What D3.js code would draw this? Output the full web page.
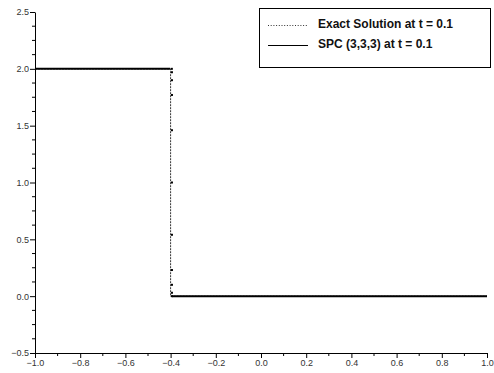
<!DOCTYPE html>
<html>
<head>
<meta charset="utf-8">
<script src="https://cdn.jsdelivr.net/npm/d3@7"></script>
<style>
  html, body { margin: 0; padding: 0; background: #fff; }
  svg { display: block; }
  .tick-label { font-family: "Liberation Sans", Arial, sans-serif; font-size: 9px; fill: #333; }
  .legend-text { font-family: "Liberation Sans", Arial, sans-serif; font-size: 12px; font-weight: bold; fill: #111; }
</style>
</head>
<body>
<svg id="chart" width="494" height="373"></svg>
<script>
// Exact solution: step of height 2 located at x = -0.4
const exactX = [-1.0, -0.4, -0.4, 1.0];
const exactY = [2.0, 2.0, 0.0, 0.0];

// SPC (3,3,3) solution: plateaus on either side of the shock
const spcLeftX = [-1.0, -0.402];
const spcLeftY = [2.0, 2.0];
const spcRightX = [-0.3935, 1.0];
const spcRightY = [0.0, 0.0];
// solution points across the shock
const shockX = [-0.3945, -0.394, -0.394, -0.394, -0.394, -0.394, -0.394, -0.394, -0.394, -0.394, -0.3945];
const shockY = [2.0, 1.97, 1.90, 1.77, 1.46, 1.0, 0.54, 0.23, 0.10, 0.03, 0.0];

const xTicks = [-1.0, -0.8, -0.6, -0.4, -0.2, 0.0, 0.2, 0.4, 0.6, 0.8, 1.0];
const xMinor = [-0.9, -0.7, -0.5, -0.3, -0.1, 0.1, 0.3, 0.5, 0.7, 0.9];
const yTicks = [-0.5, 0.0, 0.5, 1.0, 1.5, 2.0, 2.5];
const yMinor = [-0.375, -0.25, -0.125, 0.125, 0.25, 0.375, 0.625, 0.75, 0.875,
                1.125, 1.25, 1.375, 1.625, 1.75, 1.875, 2.125, 2.25, 2.375];

const legendLabels = ["Exact Solution at t = 0.1", "SPC (3,3,3) at t = 0.1"];

const svg = d3.select("#chart");
const x = d3.scaleLinear().domain([-1, 1]).range([35, 487]);
const y = d3.scaleLinear().domain([-0.5, 2.5]).range([353, 12]);

// axes: left and bottom only
const gx = svg.append("g").attr("transform", `translate(0,${y(-0.5)})`);
gx.call(d3.axisBottom(x).tickValues(xTicks).tickFormat(d3.format(".1f")).tickSize(5).tickSizeOuter(0));
gx.append("g").selectAll("line").data(xMinor).join("line")
  .attr("x1", d => x(d)).attr("x2", d => x(d)).attr("y1", 0).attr("y2", 3)
  .attr("stroke", "#000");

const gy = svg.append("g").attr("transform", `translate(${x(-1)},0)`);
gy.call(d3.axisLeft(y).tickValues(yTicks).tickFormat(d3.format(".1f")).tickSize(5).tickSizeOuter(0));
gy.append("g").selectAll("line").data(yMinor).join("line")
  .attr("y1", d => y(d)).attr("y2", d => y(d)).attr("x1", 0).attr("x2", -3)
  .attr("stroke", "#000");

[gx, gy].forEach(g => {
  g.select(".domain").attr("stroke", "#000").attr("stroke-width", 1);
  g.selectAll(".tick line").attr("stroke", "#000");
  g.selectAll(".tick text").attr("class", "tick-label").attr("font-size", null).attr("font-family", null).attr("fill", null);
});
gx.selectAll(".tick text").attr("dy", "0.55em").attr("y", 8);
gy.selectAll(".tick text").attr("x", -6);

const line = d3.line().x(d => x(d[0])).y(d => y(d[1]));

// exact solution (dotted)
svg.append("path")
  .datum(d3.zip(exactX, exactY))
  .attr("d", line)
  .attr("fill", "none")
  .attr("stroke", "#333")
  .attr("stroke-width", 1)
  .attr("stroke-dasharray", "2,1");

// SPC solution (solid)
[[spcLeftX, spcLeftY], [spcRightX, spcRightY]].forEach(([xs, ys]) => {
  svg.append("path")
    .datum(d3.zip(xs, ys))
    .attr("d", line)
    .attr("fill", "none")
    .attr("stroke", "#000")
    .attr("stroke-width", 2);
});
svg.append("g").selectAll("rect").data(d3.zip(shockX, shockY)).join("rect")
  .attr("x", d => x(d[0]) - 1)
  .attr("y", d => y(d[1]) - 1)
  .attr("width", 2).attr("height", 2)
  .attr("fill", "#000");

// legend
const lg = svg.append("g");
lg.append("rect")
  .attr("x", 259.5).attr("y", 8.5).attr("width", 231).attr("height", 59)
  .attr("fill", "#fff").attr("stroke", "#000").attr("stroke-width", 1);
const styles = [{dash: "1,1.7", w: 1, c: "#333"}, {dash: null, w: 1, c: "#000"}];
legendLabels.forEach((label, i) => {
  const yy = 25 + i * 20;
  lg.append("line")
    .attr("x1", 268).attr("x2", 308).attr("y1", yy + 0.5).attr("y2", yy + 0.5)
    .attr("stroke", styles[i].c).attr("stroke-width", styles[i].w)
    .attr("stroke-dasharray", styles[i].dash);
  lg.append("text").attr("class", "legend-text")
    .attr("x", 318).attr("y", yy - 1.5).attr("dy", "0.35em")
    .text(label);
});
</script>
</body>
</html>
